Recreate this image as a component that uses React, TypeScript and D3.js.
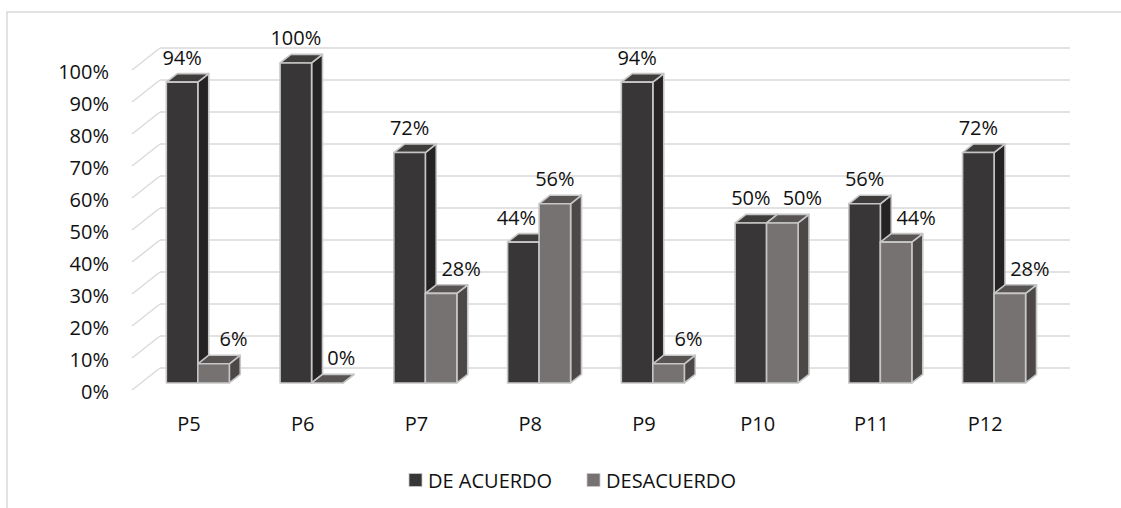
import React from "react";
import * as d3 from "d3";

const categories = ["P5", "P6", "P7", "P8", "P9", "P10", "P11", "P12"];
const deAcuerdo = [0.94, 1.0, 0.72, 0.44, 0.94, 0.5, 0.56, 0.72];
const desacuerdo = [0.06, 0.0, 0.28, 0.56, 0.06, 0.5, 0.44, 0.28];
const seriesNames = ["DE ACUERDO", "DESACUERDO"];
const yTicks = [0, 0.1, 0.2, 0.3, 0.4, 0.5, 0.6, 0.7, 0.8, 0.9, 1.0];

const W = 1121;
const H = 508;
const FONT = "'Open Sans', 'Liberation Sans', sans-serif";

// 3D projection: depth offsets of the plot box
const DX = 28;
const DY = -22;
// bar depth placement (fraction of box depth)
const BAR_F0 = 0.32;
const BAR_F1 = 0.71;

const colors = [
  { front: "#393637", side: "#262324", top: "#3f3c3c" },
  { front: "#767271", side: "#4c4848", top: "#585454" },
];

export default function App() {
  const x = d3.scaleBand<string>().domain(categories).range([132, 1042]).paddingInner(0.446).paddingOuter(0.223);
  const xs = d3.scaleBand<number>().domain([0, 1]).range([0, x.bandwidth()]);
  const y = d3.scaleLinear().domain([0, 1]).range([390, 70]);
  const pct = d3.format(".0%");

  const bx0 = DX * BAR_F0;
  const by0 = DY * BAR_F0;
  const bdx = DX * (BAR_F1 - BAR_F0);
  const bdy = DY * (BAR_F1 - BAR_F0);

  const series = [deAcuerdo, desacuerdo];

  const bars: React.ReactNode[] = [];
  const labels: React.ReactNode[] = [];
  categories.forEach((c, i) => {
    series.forEach((vals, s) => {
      const v = vals[i];
      const xl = (x(c) as number) + xs(s)! + bx0;
      const xr = xl + xs.bandwidth();
      const yb = y(0) + by0;
      const yt = y(v) + by0;
      const col = colors[s];
      const stroke = "#c6c6c6";
      bars.push(
        <g key={`b${i}-${s}`} stroke={stroke} strokeWidth={1.6} strokeLinejoin="round">
          <polygon
            points={`${xr},${yb} ${xr + bdx},${yb + bdy} ${xr + bdx},${yt + bdy} ${xr},${yt}`}
            fill={col.side}
          />
          <polygon
            points={`${xl},${yt} ${xl + bdx},${yt + bdy} ${xr + bdx},${yt + bdy} ${xr},${yt}`}
            fill={col.top}
          />
          {v > 0 && <rect x={xl} y={yt} width={xr - xl} height={yb - yt} fill={col.front} />}
        </g>
      );
      const other = series[1 - s][i];
      let ldx = 0;
      if (s === 1 && v <= other) ldx = v === 0 ? 14 : 20;
      if (s === 0 && v < other) ldx = -7;
      labels.push(
        <text
          key={`l${i}-${s}`}
          x={(xl + xr) / 2 + ldx}
          y={yt - 25}
          textAnchor="middle"
          dominantBaseline="central"
        >
          {pct(v)}
        </text>
      );
    });
  });

  return (
    <svg width={W} height={H} style={{ position: "absolute", left: 0, top: 0, background: "#fff" }} fontFamily={FONT} fontSize={20} fill="#111">
      <rect x={7} y={12} width={W + 10} height={H + 10} fill="#fff" stroke="#d9d9d9" strokeWidth={1.5} />
      <g stroke="#d9d9d9" strokeWidth={1.4} fill="none">
        {yTicks.map((t) => (
          <g key={t}>
            <line x1={132} y1={y(t)} x2={132 + DX} y2={y(t) + DY} />
            <line x1={132 + DX} y1={y(t) + DY} x2={1042 + DX} y2={y(t) + DY} />
          </g>
        ))}
      </g>
      <g textAnchor="end">
        {yTicks.map((t) => (
          <text key={t} x={109} y={y(t) + 1.5} dominantBaseline="central">
            {pct(t)}
          </text>
        ))}
      </g>
      {bars}
      {labels}
      <g textAnchor="middle">
        {categories.map((c) => (
          <text key={c} x={(x(c) as number) + x.bandwidth() / 2} y={423} dominantBaseline="central">
            {c}
          </text>
        ))}
      </g>
      <g>
        {seriesNames.map((n, s) => {
          const lx = s === 0 ? 409 : 587;
          return (
            <g key={n}>
              <rect x={lx} y={473.5} width={13} height={13} fill={colors[s].front} stroke="#c8c8c8" strokeWidth={0.8} />
              <text x={lx + 19} y={480} dominantBaseline="central">
                {n}
              </text>
            </g>
          );
        })}
      </g>
    </svg>
  );
}
